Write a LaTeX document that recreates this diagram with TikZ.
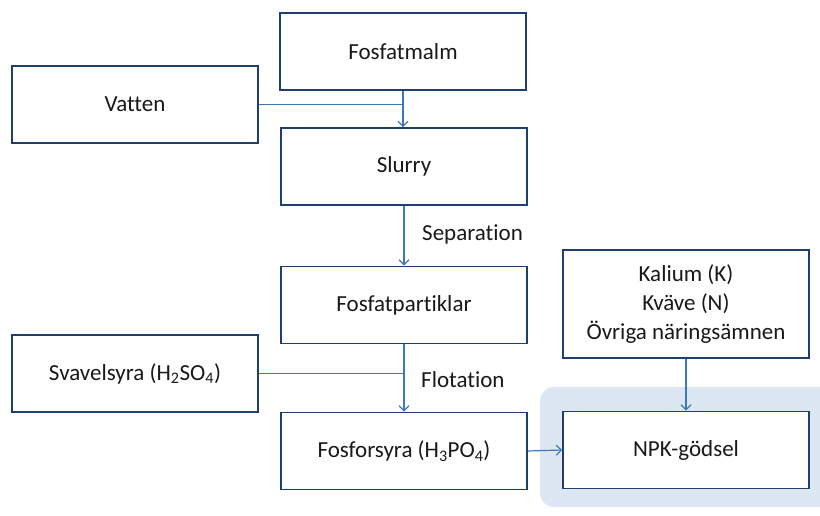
\documentclass[tikz,border=0pt]{standalone}
\usepackage{fontspec}
\setmainfont{Carlito}[Ligatures=NoCommon]
\usetikzlibrary{arrows.meta}
\definecolor{boxline}{HTML}{1F3F6E}
\definecolor{conn}{HTML}{3D78B8}
\definecolor{npkbg}{HTML}{DDE7F3}
\begin{document}
\begin{tikzpicture}[x=1pt,y=-1pt,
  procbox/.style={draw=boxline,line width=1.8pt,fill=white,minimum width=246pt,minimum height=77pt,inner sep=0pt,align=center,font=\fontsize{23}{27}\selectfont,text=black!90},
  flow/.style={draw=conn,line width=1.2pt,-{Straight Barb[length=5pt,width=10pt,line width=1.2pt]}},
  joinline/.style={draw=conn,line width=1.2pt},
  lbl/.style={font=\fontsize{23}{27}\selectfont,text=black!90,anchor=west,inner sep=0pt}]
\useasboundingbox (0,0) rectangle (820,516);
\fill[npkbg,rounded corners=14pt] (540,387) rectangle (835,507);
\node[procbox] (malm) at (403,51.5) {Fosfatmalm};
\node[procbox] (vatten) at (135,104.5) {Vatten};
\node[procbox] (slurry) at (404,166.5) {Slurry};
\node[procbox] (part) at (404,305) {Fosfatpartiklar};
\node[procbox] (svavel) at (135,373.5) {Svavelsyra (H\textsubscript{2}SO\textsubscript{4})};
\node[procbox] (fosfor) at (404,451) {Fosforsyra (H\textsubscript{3}PO\textsubscript{4})};
\node[procbox,minimum height=108pt,font=\fontsize{23}{29}\selectfont] (kalium) at (686,304) {Kalium (K)\\Kväve (N)\\Övriga näringsämnen};
\node[procbox] (npk) at (686,450) {NPK-gödsel};
\coordinate (j1) at (malm.south |- vatten.east);
\coordinate (j2) at (part.south |- svavel.east);
\draw[flow] (malm.south) -- (malm.south |- slurry.north);
\draw[joinline] (vatten.east) -- (j1);
\draw[flow] (slurry.south) -- (part.north);
\node[lbl] (sep) at (422,234) {Separation};
\draw[flow] (part.south) -- (fosfor.north);
\draw[joinline] (svavel.east) -- (j2);
\node[lbl] (flot) at (421,380) {Flotation};
\draw[flow] (fosfor.east) -- (npk.west);
\draw[flow] (kalium.south) -- (npk.north);
\end{tikzpicture}
\end{document}
